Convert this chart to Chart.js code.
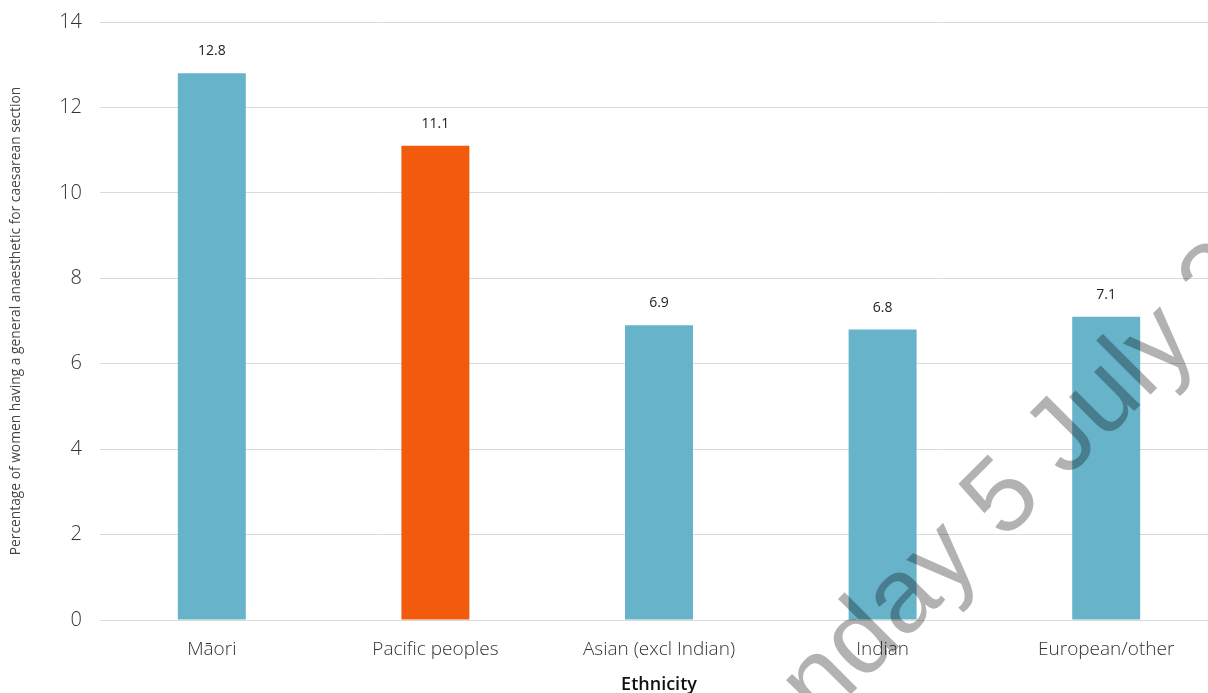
<!DOCTYPE html>
<html>
<head>
<meta charset="utf-8">
<script src="https://cdn.jsdelivr.net/npm/chart.js@4"></script>
<style>
  html, body { margin: 0; padding: 0; background: #fff; overflow: hidden; }
  #wrap { width: 1218px; height: 693px; position: relative; }
</style>
</head>
<body>
<div id="wrap"><canvas id="barChart"></canvas></div>
<script>
const categories = ["Māori", "Pacific peoples", "Asian (excl Indian)", "Indian", "European/other"];
const gaPercent = [12.8, 11.1, 6.9, 6.8, 7.1];
const barColours = ["#67b3ca", "#f25a0e", "#67b3ca", "#67b3ca", "#67b3ca"];
const yTicks = [0, 2, 4, 6, 8, 10, 12, 14];

// value labels above each bar
const valueLabels = {
    id: "valueLabels",
    afterDatasetsDraw(chart) {
        const ctx = chart.ctx;
        const meta = chart.getDatasetMeta(0);
        ctx.save();
        ctx.font = "14px 'Open Sans'";
        ctx.fillStyle = "#222";
        ctx.textAlign = "center";
        ctx.textBaseline = "middle";
        meta.data.forEach((bar, i) => {
            ctx.fillText(String(gaPercent[i]), bar.x, bar.y - 22);
        });
        ctx.restore();
    }
};

// faint date watermark across the lower right
const watermark = {
    id: "watermark",
    afterDraw(chart) {
        const ctx = chart.ctx;
        ctx.save();
        ctx.font = "106px 'Liberation Sans'";
        ctx.fillStyle = "rgba(0,0,0,0.3)";
        ctx.textBaseline = "middle";
        const before = ctx.measureText("Monday ").width;
        const five = ctx.measureText("5").width;
        ctx.translate(1004, 500);
        ctx.rotate(-45 * Math.PI / 180);
        ctx.fillText("Monday 5 July 2021", -(before + five / 2), 0);
        ctx.restore();
    }
};

new Chart(document.getElementById("barChart"), {
    type: "bar",
    data: {
        labels: categories,
        datasets: [{
            data: gaPercent,
            backgroundColor: barColours,
            barPercentage: 0.304,
            categoryPercentage: 1.0,
        }],
    },
    options: {
        responsive: true,
        maintainAspectRatio: false,
        animation: false,
        layout: { padding: { top: 22, left: 0, right: 0, bottom: 0 } },
        plugins: {
            legend: { display: false },
            tooltip: { enabled: false },
        },
        scales: {
            x: {
                grid: { display: false, drawTicks: false },
                border: { display: false },
                ticks: {
                    padding: 18,
                    color: "#333",
                    font: { family: "Open Sans", size: 19, weight: 300 },
                    maxRotation: 0,
                },
                title: {
                    display: true,
                    text: "Ethnicity",
                    color: "#111",
                    font: { family: "Open Sans", size: 18, weight: 600 },
                    padding: { top: 0, bottom: -3 },
                },
                afterFit(scale) { scale.height = 73; },
            },
            y: {
                min: 0,
                max: 14,
                afterBuildTicks(scale) { scale.ticks = yTicks.map(v => ({ value: v })); },
                grid: { color: "#d9d9d9", lineWidth: 1, drawTicks: false },
                border: { display: false },
                ticks: {
                    padding: 18,
                    color: "#333",
                    font: { family: "Open Sans", size: 20, weight: 300 },
                },
                title: {
                    display: true,
                    text: "Percentage of women having a general anaesthetic for caesarean section",
                    color: "#444",
                    font: { family: "Open Sans", size: 13.8 },
                    padding: { top: 8, bottom: 0 },
                },
                afterFit(scale) {
                    scale.width = 100;
                    scale.paddingTop = 0;
                    scale.paddingBottom = 0;
                },
            },
        },
    },
    plugins: [valueLabels, watermark],
});
</script>
</body>
</html>
